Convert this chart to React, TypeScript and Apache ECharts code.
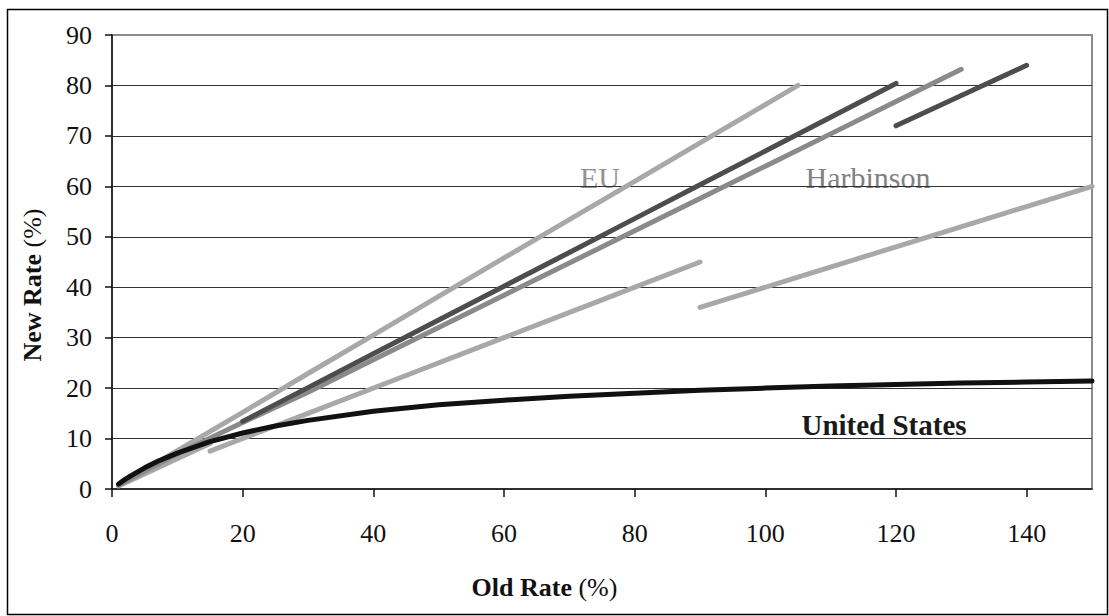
import React, { useEffect, useRef } from "react";
import * as echarts from "echarts";

const xTicks = [0, 20, 40, 60, 80, 100, 120, 140];
const yTicks = [0, 10, 20, 30, 40, 50, 60, 70, 80, 90];

// United States
const usOld = [1, 2, 3, 5, 7, 10, 15, 20, 25, 30, 40, 50, 60, 70, 80, 90, 100, 110, 120, 130, 140, 150];
const usNew = [1.0, 1.9, 2.7, 4.2, 5.5, 7.1, 9.4, 11.1, 12.5, 13.6, 15.4, 16.7, 17.6, 18.4, 19.0, 19.6, 20.0, 20.4, 20.7, 21.0, 21.2, 21.4];

// EU
const euOld = [1, 10, 20, 30, 40, 50, 60, 70, 80, 90, 100, 105];
const euNew = [0.8, 7.6, 15.2, 22.9, 30.5, 38.2, 45.8, 53.4, 61.0, 68.6, 76.2, 80.0];

// Harbinson (medium grey)
const medOld = [1, 10, 20, 30, 40, 50, 60, 70, 80, 90, 100, 110, 120, 130];
const medNew = [0.8, 7.0, 13.2, 19.2, 25.6, 32.0, 38.4, 44.8, 51.2, 57.6, 64.0, 70.4, 76.8, 83.2];

// dark grey segments
const darkAOld = [20, 30, 40, 50, 60, 70, 80, 90, 100, 110, 120];
const darkANew = [13.4, 20.1, 26.8, 33.5, 40.2, 46.9, 53.6, 60.3, 67.0, 73.7, 80.4];
const darkBOld = [120, 130, 140];
const darkBNew = [72, 78, 84];

// light grey lower segments
const lowAOld = [1, 15];
const lowANew = [0.6, 9.0];
const lowBOld = [15, 30, 45, 60, 75, 90];
const lowBNew = [7.5, 15, 22.5, 30, 37.5, 45];
const lowCOld = [90, 105, 120, 135, 150];
const lowCNew = [36, 42, 48, 54, 60];

const pair = (xs: number[], ys: number[]) => xs.map((x, i) => [x, ys[i]]);

const FONT = "'Liberation Serif', 'Times New Roman', serif";
const LIGHT = "#a8a8a8";
const MED = "#8a8a8a";
const DARK = "#4d4d4d";
const BLACK = "#111111";

const lineSeries = (name: string, data: number[][], color: string) => ({
  name,
  type: "line",
  data,
  showSymbol: false,
  symbol: "none",
  lineStyle: { color, width: 5, cap: "round", join: "round" },
  silent: true,
});

export default function App() {
  const ref = useRef<HTMLDivElement>(null);
  useEffect(() => {
    const chart = echarts.init(ref.current!, null, { renderer: "svg" });
    chart.setOption({
      animation: false,
      backgroundColor: "#ffffff",
      grid: {
        left: 112,
        right: 17,
        top: 35,
        bottom: 127,
        show: true,
        borderColor: "#8c8c8c",
        borderWidth: 2,
        backgroundColor: "transparent",
      },
      xAxis: {
        type: "value",
        min: 0,
        max: 150,
        interval: 20,
        axisLine: { show: true, onZero: false, lineStyle: { color: BLACK, width: 1.5 } },
        axisTick: { show: true, inside: false, length: 8, customValues: xTicks, lineStyle: { color: BLACK, width: 1.5 } },
        axisLabel: { customValues: xTicks, fontFamily: FONT, fontSize: 26, color: BLACK, margin: 31 },
        splitLine: { show: false },
      },
      yAxis: {
        type: "value",
        min: 0,
        max: 90,
        interval: 10,
        axisLine: { show: true, onZero: false, lineStyle: { color: BLACK, width: 1.5 } },
        axisTick: { show: true, inside: false, length: 7, customValues: yTicks, lineStyle: { color: BLACK, width: 1.5 } },
        axisLabel: { customValues: yTicks, fontFamily: FONT, fontSize: 26, color: BLACK, margin: 20 },
        splitLine: { show: true, showMinLine: false, showMaxLine: false, lineStyle: { color: "#333333", width: 1.2 } },
      },
      series: [
        lineSeries("lowA", pair(lowAOld, lowANew), LIGHT),
        lineSeries("lowB", pair(lowBOld, lowBNew), LIGHT),
        lineSeries("lowC", pair(lowCOld, lowCNew), LIGHT),
        lineSeries("EU", pair(euOld, euNew), LIGHT),
        lineSeries("Harbinson", pair(medOld, medNew), MED),
        lineSeries("darkA", pair(darkAOld, darkANew), DARK),
        lineSeries("darkB", pair(darkBOld, darkBNew), DARK),
        lineSeries("United States", pair(usOld, usNew), BLACK),
      ],
      graphic: [
        {
          type: "rect",
          z: -10,
          silent: true,
          shape: { x: 7.5, y: 9.5, width: 1100, height: 605 },
          style: { fill: "none", stroke: "#000", lineWidth: 1.5 },
        },
        {
          type: "text",
          x: 600,
          y: 177.5,
          z: 0,
          silent: true,
          style: { text: "EU", fontFamily: FONT, fontSize: 30, fill: "#939393", align: "center", verticalAlign: "middle" },
        },
        {
          type: "text",
          x: 868,
          y: 177.5,
          z: 0,
          silent: true,
          style: { text: "Harbinson", fontFamily: FONT, fontSize: 30, fill: "#808080", align: "center", verticalAlign: "middle" },
        },
        {
          type: "text",
          x: 884,
          y: 425,
          z: 0,
          silent: true,
          style: { text: "United States", fontFamily: FONT, fontSize: 29, fontWeight: "bold", fill: "#1a1a1a", align: "center", verticalAlign: "middle" },
        },
        {
          type: "text",
          x: 544.5,
          y: 587,
          silent: true,
          style: {
            text: "{b|Old Rate} {r|(%)}",
            align: "center",
            verticalAlign: "middle",
            fill: BLACK,
            fontFamily: FONT,
            fontSize: 26,
            rich: {
              b: { fontFamily: FONT, fontSize: 26, fontWeight: "bold", fill: BLACK },
              r: { fontFamily: FONT, fontSize: 26, fill: BLACK },
            },
          },
        },
        {
          type: "text",
          x: 32,
          y: 285,
          rotation: Math.PI / 2,
          silent: true,
          style: {
            text: "{b|New Rate} {r|(%)}",
            align: "center",
            verticalAlign: "middle",
            fill: BLACK,
            fontFamily: FONT,
            fontSize: 26,
            rich: {
              b: { fontFamily: FONT, fontSize: 26, fontWeight: "bold", fill: BLACK },
              r: { fontFamily: FONT, fontSize: 26, fill: BLACK },
            },
          },
        },
      ],
    });
    return () => chart.dispose();
  }, []);
  return (
    <div
      ref={ref}
      style={{ position: "fixed", left: 0, top: 0, width: 1109, height: 616, background: "#fff" }}
    />
  );
}
